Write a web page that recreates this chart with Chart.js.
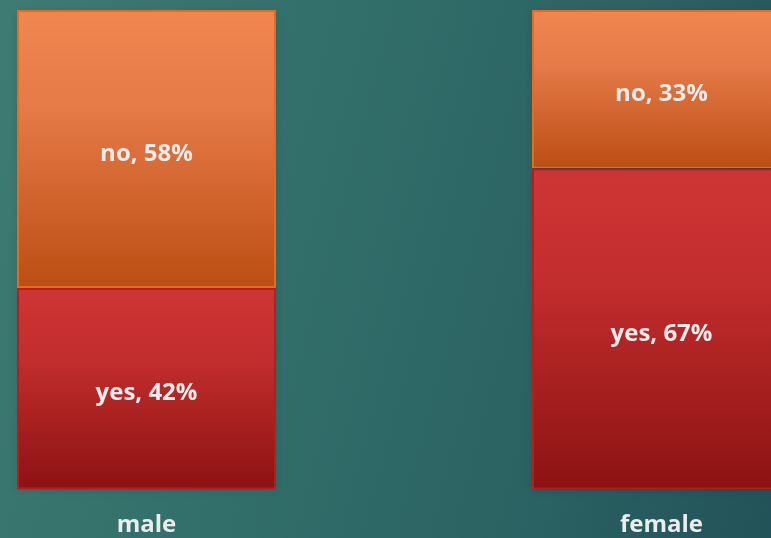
<!DOCTYPE html>
<html>
<head>
<meta charset="utf-8">
<script src="https://cdn.jsdelivr.net/npm/chart.js@4"></script>
<style>
  html, body { margin: 0; padding: 0; width: 771px; height: 538px; overflow: hidden; }
  body { background: linear-gradient(105deg, #3e7b72 0%, #326e6a 40%, #2b6363 70%, #22535a 100%); position: relative; }
  #wrap { position: absolute; left: -111px; top: 0; width: 1030px; height: 538px; }
</style>
</head>
<body>
<div id="wrap"><canvas id="chart-canvas"></canvas></div>
<script>
const categories = ['male', 'female'];
const yesValues = [42, 67];
const noValues = [58, 33];

// vertical gradient spanning only the segment of the bar
const segmentFill = (colors, stackBelow) => (context) => {
  const chart = context.chart;
  if (!chart.chartArea || context.dataIndex === undefined) return colors[0];
  const y = chart.scales.y;
  const base = stackBelow ? stackBelow[context.dataIndex] : 0;
  const val = context.dataset.data[context.dataIndex];
  const top = y.getPixelForValue(base + val);
  const bottom = y.getPixelForValue(base);
  const g = chart.ctx.createLinearGradient(0, top, 0, bottom);
  g.addColorStop(0, colors[0]);
  g.addColorStop(0.35, colors[1]);
  g.addColorStop(1, colors[2]);
  return g;
};

const labelFont = 'bold 24px "Open Sans", Lato, sans-serif';

const labelPlugin = {
  id: 'segLabels',
  beforeDatasetsDraw(chart) {
    const ctx = chart.ctx;
    ctx.save();
    ctx.shadowColor = 'rgba(0,0,0,0.35)';
    ctx.shadowBlur = 8;
    ctx.shadowOffsetY = 2;
    chart.getDatasetMeta(0).data.forEach((bar) => {
      const p = bar.getProps(['x', 'y', 'base', 'width'], true);
      ctx.fillStyle = 'rgba(0,0,0,0.3)';
      ctx.fillRect(p.x - p.width / 2, chart.chartArea.top, p.width, p.base - chart.chartArea.top);
    });
    ctx.restore();
  },
  afterDatasetsDraw(chart) {
    const ctx = chart.ctx;
    ctx.save();
    ctx.font = labelFont;
    ctx.fillStyle = '#ececec';
    ctx.textAlign = 'center';
    ctx.textBaseline = 'middle';
    chart.data.datasets.forEach((ds, i) => {
      chart.getDatasetMeta(i).data.forEach((bar, j) => {
        const p = bar.getProps(['x', 'y', 'base'], true);
        ctx.fillText(ds.label + ', ' + ds.data[j] + '%', p.x, (p.y + p.base) / 2 + 5);
      });
    });
    ctx.restore();
  }
};

const ctx = document.getElementById('chart-canvas');
const chart = new Chart(ctx, {
  type: 'bar',
  data: {
    labels: categories,
    datasets: [
      {
        label: 'yes',
        data: yesValues,
        backgroundColor: segmentFill(['#cf3535', '#c32d2d', '#8c1212'], null),
        borderColor: '#b81d1d',
        borderWidth: 2,
        borderSkipped: false
      },
      {
        label: 'no',
        data: noValues,
        backgroundColor: segmentFill(['#f08650', '#e67a48', '#bb4e12'], yesValues),
        borderColor: '#ea6a1a',
        borderWidth: 2,
        borderSkipped: false
      }
    ]
  },
  options: {
    responsive: true,
    maintainAspectRatio: false,
    animation: false,
    layout: { padding: { top: 10, bottom: -24, left: 0, right: 0 } },
    plugins: {
      legend: { display: false },
      tooltip: { enabled: false }
    },
    datasets: {
      bar: { categoryPercentage: 1, barPercentage: 0.503 }
    },
    scales: {
      x: {
        stacked: true,
        grid: { display: false, drawTicks: false },
        border: { display: false },
        ticks: {
          color: '#ececec',
          padding: 22,
          font: { family: '"Open Sans", Lato, sans-serif', size: 24, weight: 'bold' }
        }
      },
      y: {
        stacked: true,
        display: false,
        min: 0,
        max: 100
      }
    }
  },
  plugins: [labelPlugin]
});
</script>
</body>
</html>
